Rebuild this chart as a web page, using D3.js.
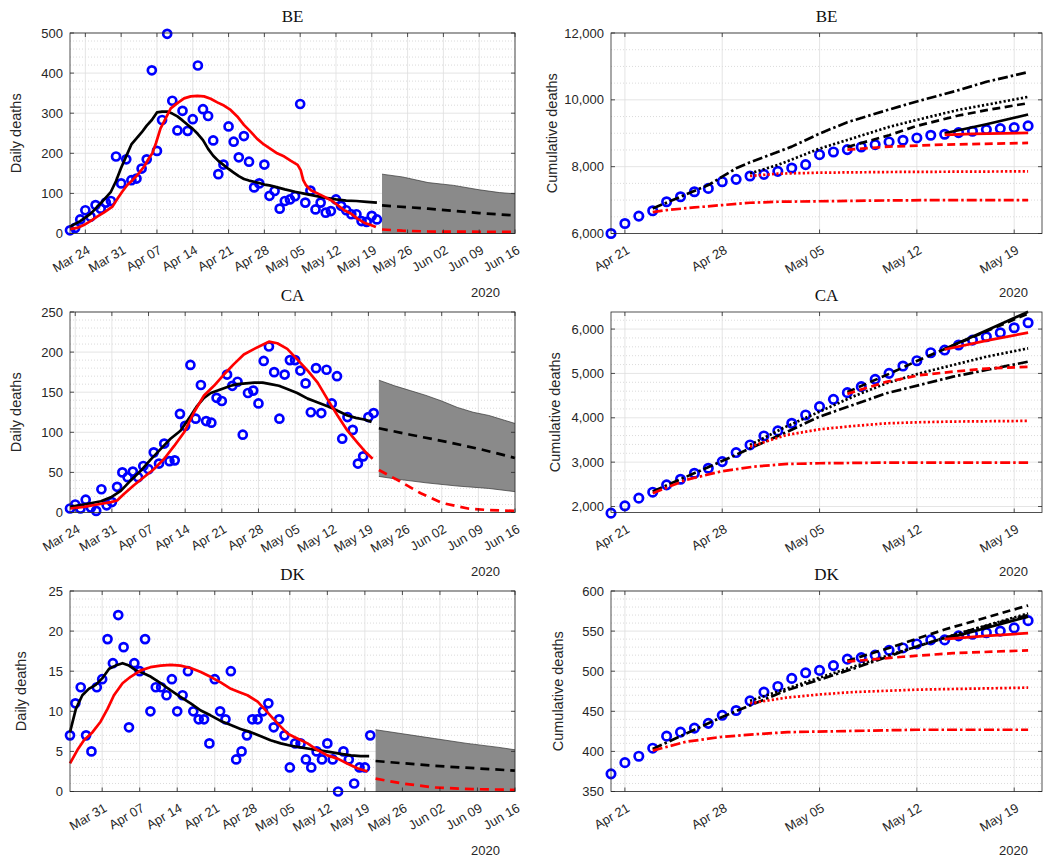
<!DOCTYPE html>
<html>
<head>
<meta charset="utf-8">
<script src="https://cdn.jsdelivr.net/npm/d3@7/dist/d3.min.js"></script>
<style>
  body { margin: 0; background: #fff; }
  svg text { font-family: "Liberation Sans", Arial, Helvetica, sans-serif; fill: #262626; }
</style>
</head>
<body>
<svg id="fig" width="1058" height="860"></svg>
<script>
// ---------- daily deaths, one value per day from the start date ----------
var beStart = "2020-03-21", caStart = "2020-03-23", dkStart = "2020-03-25";
var dailyEnd = "2020-06-16", fcStart = "2020-05-21";

var beDaily = [8,14,35,58,42,71,62,77,81,192,125,185,133,137,162,185,407,206,283,498,
  331,257,306,256,285,419,310,293,232,148,172,267,229,190,243,179,115,125,172,94,
  106,62,81,85,93,323,77,107,60,77,52,56,85,69,58,48,48,31,29,44,35];
var caDaily = [5,10,5,16,6,2,29,9,13,32,50,44,51,44,58,54,75,61,86,64,
  65,123,108,184,117,159,114,112,143,139,172,158,163,97,149,152,136,189,207,175,
  117,172,190,190,177,161,125,180,124,178,136,170,92,119,103,61,70,119,124];
var dkDaily = [7,11,13,7,5,13,14,19,16,22,18,8,16,15,19,10,13,13,12,14,
  10,12,15,10,9,9,6,14,10,9,15,4,5,7,9,9,10,11,8,9,
  7,3,6,6,4,3,5,4,6,4,0,5,4,1,3,3,7];

// smoothed curves: [days after start, value]
var beBlack = [[0,17],[2,31],[4,49],[6,75],[8,104],[9,131],[10,164],[11,193],[12,222],[13,237],[14,252],[15,269],[16,283],[17,302],[18,304],[19,304],[20,299],[21,292],[22,282],[23,271],[24,261],[25,248],[26,233],[27,211],[28,194],[29,181],[30,171],[31,161],[32,152],[33,143],[34,136],[35,132],[36,129],[37,126],[38,122],[39,120],[40,117],[42,110],[44,104],[46,99],[48,94],[50,89],[52,85],[54,82],[56,81],[58,79],[60,77]];
var beRed = [[0,11],[1.4,14],[2.7,21],[4,31],[5.3,42],[6.6,52],[8.3,67],[9.3,87],[10.2,104],[11.2,121],[12.2,133],[13.2,146],[14.5,167],[15.4,187],[16.1,200],[16.8,225],[17.7,262],[18.7,287],[19.7,312],[21,325],[22.3,337],[23.6,342],[24.9,343],[26.2,342],[27.5,336],[28.8,327],[30.1,319],[31.4,308],[32.7,292],[34,271],[35.3,254],[36.6,236],[37.9,222],[39.2,211],[40.5,200],[41.9,192],[43.2,181],[44.5,171],[45.1,158],[45.6,133],[46.1,121],[47.1,108],[48.4,100],[49.7,92],[51,83],[52.3,71],[53.6,58],[54.9,50],[56.2,37],[57.5,27],[58.8,21],[59.8,16]];
var caBlack = [[0,7],[2.7,10],[5.9,14],[7.8,19],[9.7,27],[11.6,40],[13.5,52],[15.4,66],[17.3,79],[19.2,92],[21.1,102],[23.1,121],[24.3,133],[25.6,143],[26.9,149],[28.2,152],[29.4,155],[30.7,158],[32,160],[33.6,161],[35.2,162],[36.8,162],[38.3,160],[39.9,158],[41.5,154],[43.4,149],[45.4,142],[46.6,139],[48.2,135],[49.8,131],[51.4,126],[53,121],[54.6,118],[56.2,116],[57.6,113]];
var caRed = [[0,5],[2.7,7],[5.2,10],[7.8,13],[9,15],[10.3,23],[12.2,34],[14.1,44],[16,54],[18,67],[19.9,83],[21.8,100],[23.7,125],[25.6,146],[27.5,158],[29.4,172],[31.3,185],[33.2,197],[35.2,204],[37.1,210],[38,213],[39.6,211],[41.5,204],[43.4,191],[45.4,177],[47.3,162],[49.2,141],[51.1,121],[53,102],[54.9,87],[56.5,75],[57.8,67]];
var dkBlack = [[0,7.4],[1.1,10.3],[2.3,12],[3.5,12.8],[4.8,13.3],[6,14.1],[7.3,15.3],[8.5,15.7],[9.8,16],[11,15.7],[12.3,15.1],[13.5,14.8],[15.1,14.3],[16.9,13.5],[18.8,12.6],[20.6,11.8],[22.5,11],[24.4,10.1],[26.2,9.5],[28.1,8.8],[30,8.3],[31.8,7.8],[33.7,7.4],[35.6,6.9],[37.4,6.4],[39.3,6],[41.2,5.7],[43,5.5],[44.9,5.3],[46.8,5.1],[48.6,4.9],[50.5,4.7],[52.4,4.5],[54.2,4.4],[55.8,4.4]];
var dkRed = [[0,3.5],[1.4,5.2],[2.6,6.4],[4.2,7.4],[5.7,8.7],[7,10.3],[8.2,12],[9.8,13.5],[11.3,14.3],[13.2,15.1],[15,15.5],[16.9,15.7],[18.8,15.8],[20.6,15.7],[22.5,15.4],[24.4,14.9],[26.2,14.3],[28.1,13.6],[30,12.8],[31.5,12.4],[33.1,12],[35,11.2],[36.8,9.9],[38.7,8.5],[40.6,7.2],[42.4,6.6],[44.3,6],[46.1,5.2],[48,4.5],[49.9,4.1],[51.7,3.5],[53.6,2.9],[55.5,2.5]];

// forecasts: [days after May 21, value]
var beFcHi = [[0,148],[4,141],[9,127],[14,120],[19,109],[23,102],[26,99]];
var beFcLo = [[0,0],[26,0]];
var beFcMid = [[0,70],[9,62],[19,51],[26,45]];
var beFcRed = [[0,10],[4,7],[9,5],[26,4]];
var caFcHi = [[0,165],[3,158],[6,152],[9,146],[12,139],[15,131],[18,125],[21,121],[24,115],[26,111]];
var caFcLo = [[0,45],[3,42],[9,37],[15,33],[21,30],[26,26]];
var caFcMid = [[0,105],[6,97],[13,88],[20,78],[26,68]];
var caFcRed = [[0,53],[4,39],[8,24],[12,12],[17,5],[21,3],[26,2]];
var dkFcHi = [[0,7.7],[5,7.2],[11,6.6],[17,6.0],[23,5.5],[26,5.2]];
var dkFcLo = [[0,0],[26,0]];
var dkFcMid = [[0,3.8],[11,3.2],[26,2.6]];
var dkFcRed = [[0,1.6],[5,1.0],[11,0.5],[18,0.3],[26,0.2]];

// ---------- cumulative deaths, Apr 20 .. May 20 ----------
var cumStart = "2020-04-20", cumEnd = "2020-05-21";
var beCum = [6000,6300,6520,6680,6950,7100,7250,7350,7550,7620,7720,7770,7860,7960,8060,8360,8440,8510,8590,8660,8740,8790,8860,8940,8970,9020,9060,9110,9140,9170,9220];
var caCum = [1850,2015,2188,2323,2488,2615,2750,2863,3013,3216,3388,3591,3704,3876,4064,4251,4416,4567,4702,4867,5002,5167,5287,5467,5527,5640,5752,5827,5917,6030,6143];
var dkCum = [372,386,394,404,419,424,429,435,445,451,463,474,481,491,498,501,507,515,517,520,526,529,534,539,539,544,546,548,550,554,563];

// fitted projections made on Apr 23 (1), Apr 30 (2), May 7 (3), May 14 (4): [days after Apr 20, value]
var beFit1K = [[3,6750],[5,7100],[7,7450],[8,7700],[9,7950],[10,8130],[13,8600],[15,8990],[17,9330],[20,9710],[22,9950],[25,10290],[27,10540],[30,10830]];
var beFit1R = [[3,6640],[4,6700],[6,6780],[8,6850],[10,6920],[12,6950],[16,6970],[20,6990],[24,7000],[30,7000]];
var beFit2K = [[10,7800],[12,8050],[15,8540],[17,8800],[20,9190],[22,9400],[25,9700],[28,9930],[30,10090]];
var beFit2R = [[10,7720],[12,7790],[15,7820],[20,7840],[30,7860]];
var beFit3K = [[17,8590],[20,8940],[22,9220],[25,9530],[27,9690],[30,9900]];
var beFit3R = [[17,8510],[20,8600],[24,8660],[30,8710]];
var beFit4K = [[24,9000],[27,9270],[30,9560]];
var beFit4R = [[24,8950],[26,8980],[30,9010]];

var caFit1K = [[3,2338],[7.9,3013],[10.3,3351],[12.7,3689],[15,4026],[17.4,4289],[19.8,4552],[22.2,4739],[24.6,4927],[27,5077],[30,5265]];
var caFit1R = [[3,2300],[5.4,2600],[7.9,2790],[10.3,2900],[12.7,2960],[15,2975],[20,2990],[30,2990]];
var caFit2K = [[10,3388],[12.6,3801],[15,4139],[17.4,4477],[19.8,4777],[22.2,5002],[24.6,5190],[27,5377],[30,5565]];
var caFit2R = [[10,3350],[12.6,3610],[15,3740],[17.4,3815],[19.8,3875],[22.2,3900],[24.6,3915],[30,3930]];
var caFit3K = [[17,4580],[20,4990],[22,5280],[24,5550],[27,5950],[30,6350]];
var caFit3R = [[17,4540],[19.8,4810],[22.2,4960],[24.6,5040],[27,5110],[30,5150]];
var caFit4K = [[24,5550],[27,5970],[30,6390]];
var caFit4R = [[24,5540],[27,5740],[30,5920]];

var dkFit1K = [[3,403],[8,443],[12.6,476],[17.4,503],[22.2,532],[26,552],[30,570]];
var dkFit1R = [[3,401],[5.4,412],[7.9,418],[10,421],[12.7,424],[17.4,425.5],[22,427],[30,427]];
var dkFit2K = [[10,463],[15,492],[20,520],[25,547],[30,572]];
var dkFit2R = [[10,460],[12.6,467],[15,471],[17.4,474],[22,477],[30,479.5]];
var dkFit3K = [[17,513],[20,529],[24,552],[27,567],[30,582]];
var dkFit3R = [[17,512],[21,518],[24.6,522.5],[30,526]];
var dkFit4K = [[24,540],[30,568]];
var dkFit4R = [[24,540],[27,544],[30,547.5]];

// ---------- drawing ----------
var parseDay = d3.utcParse("%Y-%m-%d");
function at(s, n) { return new Date(+parseDay(s) + n * 864e5); }

var svg = d3.select("#fig");
var ink = "#262626";
var rowTop = [33, 312, 591], rowH = 200.5;
var dashDot = "10,3,2.5,3", dotted = "2.2,2.2", dashed = "8,4.5";

function grid(g, x, y, xt, yt, ym) {
  var xr = x.range(), yr = y.range();
  g.append("g").selectAll("line")
    .data(ym.filter(function(v){ return yt.every(function(t){ return Math.abs(t - v) > 1e-6; }); }))
    .join("line")
    .attr("x1", xr[0]).attr("x2", xr[1])
    .attr("y1", function(d){ return y(d); }).attr("y2", function(d){ return y(d); })
    .attr("stroke", "#cccccc").attr("stroke-width", 0.7).attr("stroke-dasharray", "1,2");
  g.append("g").selectAll("line").data(yt).join("line")
    .attr("x1", xr[0]).attr("x2", xr[1])
    .attr("y1", function(d){ return y(d); }).attr("y2", function(d){ return y(d); })
    .attr("stroke", "#dedede").attr("stroke-width", 0.8);
  g.append("g").selectAll("line").data(xt).join("line")
    .attr("x1", function(d){ return x(d); }).attr("x2", function(d){ return x(d); })
    .attr("y1", yr[1]).attr("y2", yr[0])
    .attr("stroke", "#dedede").attr("stroke-width", 0.8);
}

function axes(g, x, y, xt, yt, yFmt) {
  var xr = x.range(), yr = y.range();
  var xa = xr[0], xb = xr[1], yb = yr[0], ya = yr[1];
  g.append("rect").attr("x", xa).attr("y", ya).attr("width", xb - xa).attr("height", yb - ya)
    .attr("fill", "none").attr("stroke", ink).attr("stroke-width", 0.8);
  var tk = g.append("g").attr("stroke", ink).attr("stroke-width", 0.8);
  xt.forEach(function(t){
    tk.append("line").attr("x1", x(t)).attr("x2", x(t)).attr("y1", yb).attr("y2", yb - 4);
    tk.append("line").attr("x1", x(t)).attr("x2", x(t)).attr("y1", ya).attr("y2", ya + 4);
  });
  yt.forEach(function(t){
    tk.append("line").attr("x1", xa).attr("x2", xa + 4).attr("y1", y(t)).attr("y2", y(t));
    tk.append("line").attr("x1", xb).attr("x2", xb - 4).attr("y1", y(t)).attr("y2", y(t));
  });
  g.selectAll(".xl").data(xt).join("text").attr("class", "xl")
    .attr("transform", function(d){ return "translate(" + (x(d) + 1) + "," + (yb + 11) + ") rotate(-30)"; })
    .attr("text-anchor", "end").attr("dy", "0.72em").attr("font-size", 13)
    .text(d3.utcFormat("%b %d"));
  g.selectAll(".yl").data(yt).join("text").attr("class", "yl")
    .attr("x", xa - 7).attr("y", function(d){ return y(d); }).attr("dy", "0.35em")
    .attr("text-anchor", "end").attr("font-size", 13)
    .text(yFmt);
}

function curve(g, x, y, start, pts, color, dash, w) {
  g.append("path").datum(pts)
    .attr("d", d3.line().x(function(d){ return x(at(start, d[0])); }).y(function(d){ return y(d[1]); }))
    .attr("fill", "none").attr("stroke", color).attr("stroke-width", w || 2.7)
    .attr("stroke-dasharray", dash || null).attr("stroke-linejoin", "round");
}

function labels(g, title, cx, bot, top, labX, labText, yearX) {
  g.append("text").attr("x", cx).attr("y", top - 11).attr("text-anchor", "middle")
    .attr("font-size", 17).style("font-family", "'Liberation Serif', 'Times New Roman', serif")
    .style("fill", "#111").text(title);
  g.append("text").attr("transform", "translate(" + labX + "," + ((top + bot) / 2) + ") rotate(-90)")
    .attr("text-anchor", "middle").attr("font-size", 14.5).text(labText);
  g.append("text").attr("x", yearX).attr("y", bot + 63).attr("text-anchor", "end")
    .attr("font-size", 13).text("2020");
}

function ticksFrom(lo, hi, step) {
  return d3.range(Math.ceil(lo / step - 1e-9) * step, hi + step * 1e-6, step);
}

var dailyPanels = [
  { title: "BE", start: beStart, obs: beDaily, black: beBlack, red: beRed, hi: beFcHi, lo: beFcLo, mid: beFcMid, redFc: beFcRed, yMax: 500, step: 100, labX: 21 },
  { title: "CA", start: caStart, obs: caDaily, black: caBlack, red: caRed, hi: caFcHi, lo: caFcLo, mid: caFcMid, redFc: caFcRed, yMax: 250, step: 50, labX: 21 },
  { title: "DK", start: dkStart, obs: dkDaily, black: dkBlack, red: dkRed, hi: dkFcHi, lo: dkFcLo, mid: dkFcMid, redFc: dkFcRed, yMax: 25, step: 5, labX: 26 }
];

dailyPanels.forEach(function(p, i) {
  var top = rowTop[i], bot = top + rowH;
  var g = svg.append("g");
  var x = d3.scaleUtc().domain([at(p.start, 0), at(dailyEnd, 0)]).range([70, 515]);
  var y = d3.scaleLinear().domain([0, p.yMax]).range([bot, top]);
  var xt = d3.utcTuesday.range(at(p.start, 0), at(dailyEnd, 1));
  var yt = ticksFrom(0, p.yMax, p.step);
  var ym = ticksFrom(0, p.yMax, p.step / 5);
  grid(g, x, y, xt, yt, ym);

  // forecast band
  var band = p.hi.map(function(d){ return [x(at(fcStart, d[0])), y(d[1])]; })
    .concat(p.lo.slice().reverse().map(function(d){ return [x(at(fcStart, d[0])), y(d[1])]; }));
  g.append("path").attr("d", "M" + band.join("L") + "Z").attr("fill", "#8a8a8a");
  curve(g, x, y, fcStart, p.hi, "#333", null, 0.7);
  curve(g, x, y, fcStart, p.lo, "#333", null, 0.7);

  g.append("g").selectAll("circle").data(p.obs).join("circle")
    .attr("cx", function(d, k){ return x(at(p.start, k)); })
    .attr("cy", function(d){ return y(d); })
    .attr("r", 4).attr("fill", "none").attr("stroke", "#0000ff").attr("stroke-width", 2.7);

  curve(g, x, y, p.start, p.black, "#000");
  curve(g, x, y, p.start, p.red, "#ff0000");
  curve(g, x, y, fcStart, p.mid, "#000", "9,6");
  curve(g, x, y, fcStart, p.redFc, "#ff0000", "9,6");

  axes(g, x, y, xt, yt, d3.format("d"));
  labels(g, p.title, 292.5, bot, top, p.labX, "Daily deaths", 500);
});

var cumPanels = [
  { title: "BE", obs: beCum, yDom: [6000, 12000], step: 2000, minor: 500, labX: 557,
    fits: [[beFit1K,"#000",dashDot],[beFit1R,"#ff0000",dashDot],[beFit2K,"#000",dotted],[beFit2R,"#ff0000",dotted],
           [beFit3K,"#000",dashed],[beFit3R,"#ff0000",dashed],[beFit4K,"#000",null],[beFit4R,"#ff0000",null]] },
  { title: "CA", obs: caCum, yDom: [1865, 6385], step: 1000, minor: 200, labX: 560,
    fits: [[caFit1K,"#000",dashDot],[caFit1R,"#ff0000",dashDot],[caFit2K,"#000",dotted],[caFit2R,"#ff0000",dotted],
           [caFit3K,"#000",dashed],[caFit3R,"#ff0000",dashed],[caFit4K,"#000",null],[caFit4R,"#ff0000",null]] },
  { title: "DK", obs: dkCum, yDom: [350, 600], step: 50, minor: 10, labX: 563,
    fits: [[dkFit1K,"#000",dashDot],[dkFit1R,"#ff0000",dashDot],[dkFit2K,"#000",dotted],[dkFit2R,"#ff0000",dotted],
           [dkFit3K,"#000",dashed],[dkFit3R,"#ff0000",dashed],[dkFit4K,"#000",null],[dkFit4R,"#ff0000",null]] }
];

cumPanels.forEach(function(p, i) {
  var top = rowTop[i], bot = top + rowH;
  var g = svg.append("g");
  var x = d3.scaleUtc().domain([at(cumStart, 0), at(cumEnd, 0)]).range([611, 1042]);
  var y = d3.scaleLinear().domain(p.yDom).range([bot, top]);
  var xt = d3.utcTuesday.range(at(cumStart, 0), at(cumEnd, 1));
  var yt = ticksFrom(p.yDom[0], p.yDom[1], p.step);
  var ym = ticksFrom(p.yDom[0], p.yDom[1], p.minor);
  grid(g, x, y, xt, yt, ym);

  g.append("g").selectAll("circle").data(p.obs).join("circle")
    .attr("cx", function(d, k){ return x(at(cumStart, k)); })
    .attr("cy", function(d){ return y(d); })
    .attr("r", 4.2).attr("fill", "none").attr("stroke", "#0000ff").attr("stroke-width", 2.7);

  p.fits.forEach(function(f){ curve(g, x, y, cumStart, f[0], f[1], f[2]); });

  axes(g, x, y, xt, yt, d3.format(","));
  labels(g, p.title, 826.5, bot, top, p.labX, "Cumulative deaths", 1028);
});
</script>
</body>
</html>
